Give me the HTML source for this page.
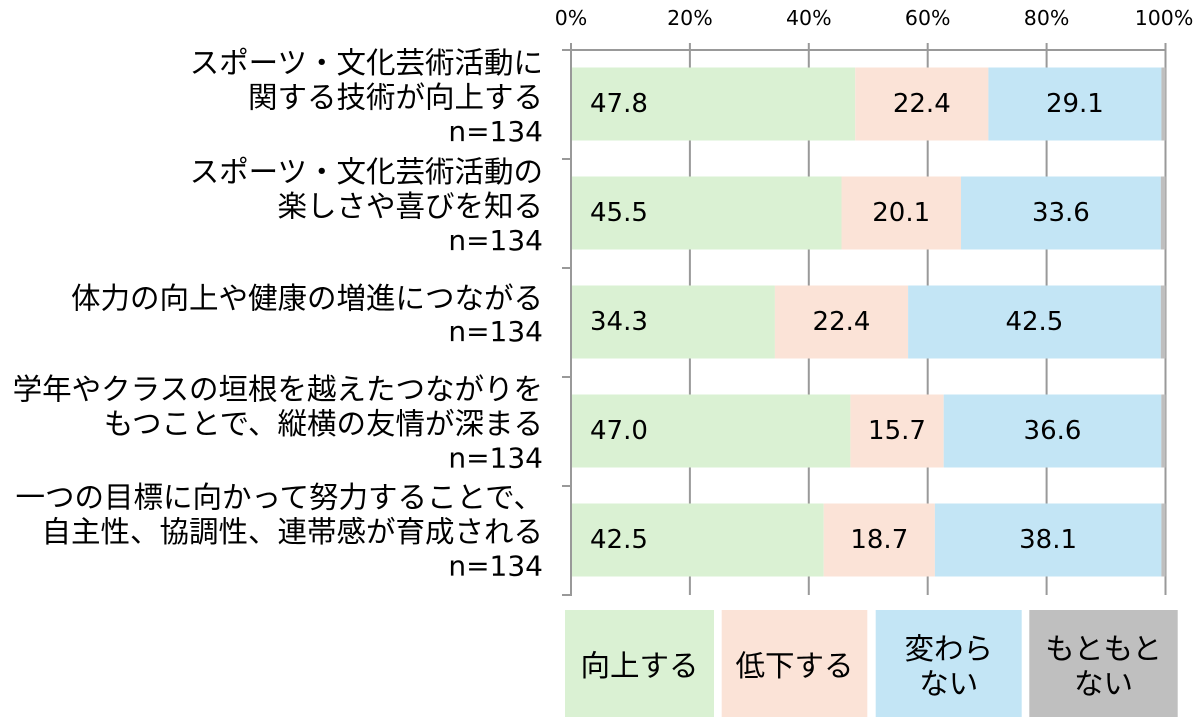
<!DOCTYPE html>
<html><head><meta charset="utf-8"><style>
html,body{margin:0;padding:0;background:#fff;}
svg{display:block;}
.jp{font-family:"Noto Sans CJK JP","Liberation Sans",sans-serif;font-size:29.5px;fill:#000;}
.nn{font-family:"DejaVu Sans","Liberation Sans",sans-serif;font-size:28px;fill:#000;}
.v{font-family:"DejaVu Sans","Liberation Sans",sans-serif;font-size:26px;fill:#000;}
.t{font-family:"DejaVu Sans","Liberation Sans",sans-serif;font-size:20.5px;fill:#000;}
</style></head><body>
<svg width="1200" height="717" viewBox="0 0 1200 717" xmlns="http://www.w3.org/2000/svg">
<!-- tick labels -->
<g class="t" text-anchor="middle">
<text x="571" y="25">0%</text>
<text x="689.9" y="25">20%</text>
<text x="808.8" y="25">40%</text>
<text x="927.7" y="25">60%</text>
<text x="1046.6" y="25">80%</text>
<text x="1164" y="25">100%</text>
</g>
<!-- grid -->
<g stroke="#999" stroke-width="2">
<line x1="689.9" y1="43" x2="689.9" y2="595"/>
<line x1="808.8" y1="43" x2="808.8" y2="595"/>
<line x1="927.7" y1="43" x2="927.7" y2="595"/>
<line x1="1046.6" y1="43" x2="1046.6" y2="595"/>
<line x1="1165.5" y1="43" x2="1165.5" y2="595"/>
<line x1="571" y1="43" x2="571" y2="596"/>
<line x1="562" y1="50" x2="1166" y2="50"/>
<line x1="562" y1="159" x2="571" y2="159"/>
<line x1="562" y1="268" x2="571" y2="268"/>
<line x1="562" y1="377" x2="571" y2="377"/>
<line x1="562" y1="486" x2="571" y2="486"/>
<line x1="562" y1="595" x2="571" y2="595"/>
</g>
<!-- bar 1 -->
<rect x="572" y="67.5" width="283.2" height="73" fill="#DAF1D3"/>
<rect x="855.2" y="67.5" width="133.2" height="73" fill="#FBE3D7"/>
<rect x="988.4" y="67.5" width="173" height="73" fill="#C3E5F5"/>
<rect x="1161.4" y="67.5" width="4.1" height="73" fill="#BFBFBF"/>
<!-- bar 2 -->
<rect x="572" y="176.5" width="269.5" height="73" fill="#DAF1D3"/>
<rect x="841.5" y="176.5" width="119.5" height="73" fill="#FBE3D7"/>
<rect x="961" y="176.5" width="199.8" height="73" fill="#C3E5F5"/>
<rect x="1160.8" y="176.5" width="4.7" height="73" fill="#BFBFBF"/>
<!-- bar 3 -->
<rect x="572" y="285.5" width="202.9" height="73" fill="#DAF1D3"/>
<rect x="774.9" y="285.5" width="133.2" height="73" fill="#FBE3D7"/>
<rect x="908.1" y="285.5" width="252.7" height="73" fill="#C3E5F5"/>
<rect x="1160.8" y="285.5" width="4.7" height="73" fill="#BFBFBF"/>
<!-- bar 4 -->
<rect x="572" y="394.5" width="278.4" height="73" fill="#DAF1D3"/>
<rect x="850.4" y="394.5" width="93.3" height="73" fill="#FBE3D7"/>
<rect x="943.7" y="394.5" width="217.6" height="73" fill="#C3E5F5"/>
<rect x="1161.3" y="394.5" width="4.2" height="73" fill="#BFBFBF"/>
<!-- bar 5 -->
<rect x="572" y="503.5" width="251.7" height="73" fill="#DAF1D3"/>
<rect x="823.7" y="503.5" width="111.2" height="73" fill="#FBE3D7"/>
<rect x="934.9" y="503.5" width="226.5" height="73" fill="#C3E5F5"/>
<rect x="1161.4" y="503.5" width="4.1" height="73" fill="#BFBFBF"/>
<!-- value labels -->
<g class="v">
<text x="590" y="112">47.8</text>
<text x="590" y="221">45.5</text>
<text x="590" y="330">34.3</text>
<text x="590" y="439">47.0</text>
<text x="590" y="548">42.5</text>
</g>
<g class="v" text-anchor="middle">
<text x="921.8" y="112">22.4</text>
<text x="1074.9" y="112">29.1</text>
<text x="901.2" y="221">20.1</text>
<text x="1060.9" y="221">33.6</text>
<text x="841.5" y="330">22.4</text>
<text x="1034.4" y="330">42.5</text>
<text x="897" y="439">15.7</text>
<text x="1052.5" y="439">36.6</text>
<text x="879.3" y="548">18.7</text>
<text x="1048.1" y="548">38.1</text>
</g>
<!-- category labels -->
<g text-anchor="end">
<text class="jp" x="543" y="73">スポーツ・文化芸術活動に</text>
<text class="jp" x="543" y="107.5">関する技術が向上する</text>
<text class="nn" x="543" y="141">n=134</text>

<text class="jp" x="543" y="182">スポーツ・文化芸術活動の</text>
<text class="jp" x="543" y="216.5">楽しさや喜びを知る</text>
<text class="nn" x="543" y="250">n=134</text>

<text class="jp" x="543" y="308.5">体力の向上や健康の増進につながる</text>
<text class="nn" x="543" y="341">n=134</text>

<text class="jp" x="543" y="399.5">学年やクラスの垣根を越えたつながりを</text>
<text class="jp" x="543" y="434">もつことで、縦横の友情が深まる</text>
<text class="nn" x="543" y="467.5">n=134</text>

<text class="jp" x="543" y="507.5">一つの目標に向かって努力することで、</text>
<text class="jp" x="543" y="542">自主性、協調性、連帯感が育成される</text>
<text class="nn" x="543" y="575.5">n=134</text>
</g>
<!-- legend -->
<rect x="565" y="610" width="149" height="110" fill="#DAF1D3"/>
<rect x="721.7" y="610" width="145.6" height="110" fill="#FBE3D7"/>
<rect x="875.7" y="610" width="146" height="110" fill="#C3E5F5"/>
<rect x="1029.3" y="610" width="148.4" height="110" fill="#BFBFBF"/>
<g class="jp" text-anchor="middle">
<text x="639.5" y="676">向上する</text>
<text x="794.5" y="676">低下する</text>
<text x="948.7" y="659">変わら</text>
<text x="948.7" y="694">ない</text>
<text x="1103.5" y="659">もともと</text>
<text x="1103.5" y="694">ない</text>
</g>
</svg>
</body></html>
